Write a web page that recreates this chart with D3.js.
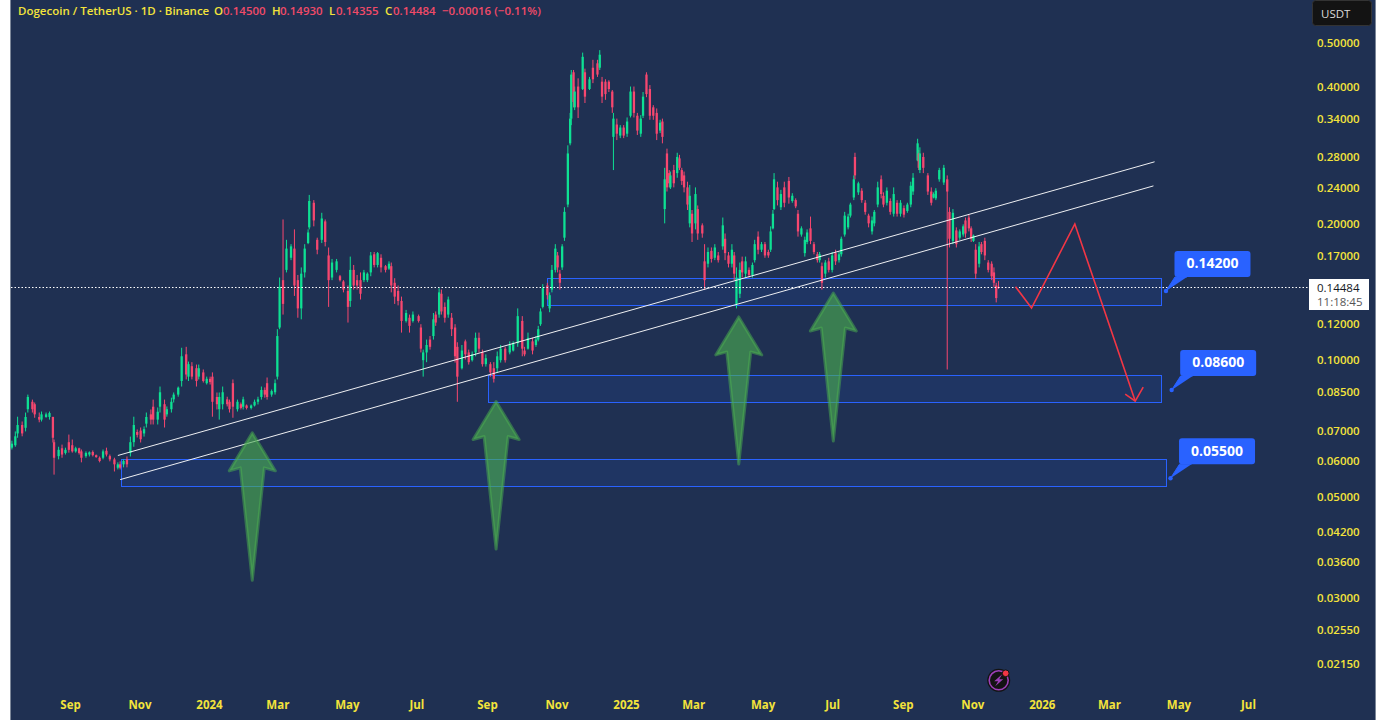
<!DOCTYPE html>
<html><head><meta charset="utf-8">
<script src="https://cdn.jsdelivr.net/npm/d3@7/dist/d3.min.js"></script>
<style>
html,body{margin:0;padding:0;background:#fff;overflow:hidden}
svg{display:block}
text{font-family:"Open Sans",sans-serif}
</style></head><body>
<svg id="c" width="1386" height="720"></svg>
<script>
const candleDay=[
0,3,5,9,12,14,18,20,24,26,
30,33,36,37,41,44,47,50,53,56,
59,61,65,68,71,74,77,80,83,86,
90,93,95,98,101,104,107,110,113,116,
118,122,124,128,130,134,136,140,142,146,
149,153,155,158,162,164,168,171,174,176,
180,182,185,189,191,194,198,201,203,206,
210,213,216,219,222,224,228,231,233,235,
238,241,245,248,251,254,257,260,261,265,
268,272,275,278,281,285,288,291,295,297,
300,303,306,309,312,315,318,321,324,328,
331,333,336,339,342,346,349,352,357,359,
361,364,367,370,372,375,377,380,383,386,
389,391,395,398,401,404,407,410,413,416,
420,423,426,429,433,437,440,444,448,450,
453,457,460,462,464,466,470,472,474,477,
479,481,483,485,488,490,491,493,494,497,
501,503,507,510,514,516,518,521,524,527,
528,531,534,537,540,543,546,549,552,554,
557,560,563,566,569,571,573,575,577,578,
581,584,586,588,590,593,595,597,600,602,
606,608,611,614,617,620,624,626,629,632,
634,636,639,641,644,647,650,652,655,658,
661,664,666,668,669,672,675,678,682,685,
688,690,693,696,698,701,704,707,709,711,
714,717,720,723,726,728,731,734,736,739,
740,743,746,749,752,755,757,760,763,765,
768,771,774,777,780,783,786,789,791,795,
796,797,800,804,807,809,811,814,818,821,
823,826,829,832,835,837,840,842,844,846,
849,851,854,857,860,862,864,866];
const candleHigh=[
.0665,.0697,.0751,.0733,.0767,.084,.0819,.0807,.0767,.0771,
.0767,.0771,.0751,.0669,.0645,.0652,.0642,.0686,.0669,.0645,
.0642,.0636,.063,.063,.0633,.062,.0614,.0636,.0642,.062,
.061,.0596,.0599,.0605,.0614,.0679,.0751,.0704,.0711,.0715,
.0767,.0779,.0819,.0787,.0875,.0819,.0791,.0827,.0849,.0875,
.1065,.107,.0993,.099,.0978,.0978,.0954,.092,.092,.094,
.0849,.0849,.0875,.0831,.0819,.0907,.0819,.0807,.0831,.0799,
.0799,.0819,.0831,.0875,.0871,.0916,.0862,.0907,.117,.152,
.204,.184,.18,.194,.154,.16,.18,.194,.231,.225,
.186,.211,.204,.177,.167,.167,.154,.15,.146,.169,
.162,.154,.156,.158,.156,.173,.173,.173,.171,.162,
.165,.164,.1515,.146,.138,.129,.126,.128,.126,.12,
.1055,.111,.113,.127,.128,.144,.143,.134,.138,.127,
.12,.1095,.108,.111,.1055,.1045,.115,.115,.1055,.103,
.099,.099,.1045,.108,.107,.11,.11,.13,.125,.107,
.115,.112,.113,.119,.13,.147,.148,.141,.162,.18,
.173,.158,.18,.217,.297,.35,.435,.435,.4,.417,
.475,.438,.42,.458,.458,.481,.42,.415,.413,.393,
.35,.34,.329,.329,.342,.4,.4,.35,.346,.389,
.43,.403,.364,.358,.338,.34,.265,.292,.262,.26,
.269,.286,.283,.265,.26,.247,.243,.214,.24,.219,
.2,.18,.177,.177,.18,.173,.206,.19,.173,.18,
.173,.16,.164,.169,.169,.16,.164,.184,.192,.182,
.182,.175,.197,.214,.258,.247,.237,.247,.253,.233,
.227,.214,.197,.187,.194,.207,.182,.173,.173,.164,
.166,.168,.173,.175,.173,.187,.212,.21,.222,.255,
.286,.247,.239,.225,.21,.207,.214,.247,.255,.234,
.24,.227,.24,.225,.225,.219,.222,.247,.258,.307,
.29,.294,.286,.258,.24,.234,.239,.265,.269,.255,
.217,.215,.196,.194,.199,.206,.209,.197,.189,.18,
.182,.182,.186,.166,.165,.16,.148,.1493];
const candleLow=[
.0636,.0645,.0675,.068,.0697,.0767,.0767,.0747,.073,.0733,
.0747,.074,.0659,.056,.0605,.061,.062,.0626,.0626,.0626,
.062,.0596,.061,.0614,.0614,.061,.0596,.0605,.0614,.0599,
.0569,.0575,.0575,.0581,.0581,.0614,.0645,.0676,.0659,.0679,
.0711,.0722,.0722,.0722,.0767,.0711,.0751,.0767,.0807,.0831,
.0875,.0907,.09,.0907,.0875,.0907,.0893,.0884,.0884,.0751,
.0779,.074,.0779,.0791,.0767,.0747,.0771,.0779,.0779,.0779,
.0779,.0791,.0799,.0819,.0827,.0819,.0831,.084,.0907,.117,
.126,.156,.166,.1385,.124,.123,.152,.18,.194,.197,
.171,.181,.178,.131,.15,.156,.149,.141,.121,.131,
.143,.143,.136,.1485,.1485,.153,.16,.16,.156,.156,
.158,.141,.133,.132,.115,.121,.115,.121,.121,.104,
.092,.099,.1055,.111,.119,.124,.126,.121,.124,.113,
.0988,.081,.0954,.1003,.0978,.0993,.102,.104,.0968,.0968,
.092,.0893,.094,.0988,.0988,.103,.1045,.107,.102,.102,
.1055,.103,.107,.11,.119,.13,.136,.1275,.141,.156,
.156,.143,.158,.183,.217,.297,.329,.36,.355,.341,
.393,.368,.393,.407,.42,.435,.368,.374,.389,.35,
.262,.305,.308,.308,.31,.342,.342,.313,.31,.341,
.379,.338,.338,.305,.316,.3,.2,.235,.24,.238,
.24,.252,.262,.243,.234,.214,.196,.182,.194,.184,
.186,.143,.16,.164,.166,.164,.175,.166,.16,.16,
.15,.13,.137,.152,.152,.152,.152,.164,.171,.173,
.168,.168,.173,.194,.214,.219,.214,.217,.221,.222,
.216,.187,.187,.169,.18,.18,.171,.164,.164,.143,
.152,.156,.156,.162,.164,.169,.187,.194,.206,.225,
.25,.231,.222,.209,.196,.189,.197,.217,.227,.217,
.219,.209,.207,.207,.207,.206,.211,.217,.231,.274,
.262,.258,.258,.231,.219,.227,.225,.247,.243,.0954,
.177,.18,.177,.184,.187,.186,.192,.182,.182,.151,
.16,.171,.166,.156,.15,.145,.134,.14355];
const candleOpen=[
.0642,.065,.069,.072,.071,.078,.081,.08,.075,.074,
.075,.075,.075,.066,.0615,.064,.0625,.066,.065,.063,
.064,.063,.0615,.062,.0628,.0618,.061,.061,.0632,.0615,
.0605,.058,.059,.059,.0605,.0625,.066,.0695,.07,.069,
.0725,.076,.079,.074,.079,.08,.076,.078,.082,.084,
.09,.103,.092,.097,.096,.092,.094,.089,.091,.092,
.083,.078,.08,.082,.081,.089,.078,.08,.079,.0795,
.0785,.0795,.081,.083,.086,.089,.084,.085,.092,.118,
.15,.158,.168,.176,.15,.13,.156,.181,.196,.222,
.184,.184,.202,.17,.152,.158,.153,.149,.142,.135,
.158,.15,.15,.15,.15,.156,.171,.162,.168,.161,
.159,.161,.148,.142,.135,.122,.124,.122,.125,.118,
.1,.104,.111,.113,.126,.126,.14,.131,.126,.124,
.118,.107,.096,.11,.104,.1,.104,.112,.104,.098,
.098,.096,.096,.1,.106,.104,.105,.109,.122,.105,
.106,.11,.108,.111,.12,.131,.146,.13,.143,.158,
.17,.155,.16,.186,.22,.3,.34,.43,.36,.4,
.395,.43,.395,.44,.45,.44,.41,.41,.41,.39,
.31,.33,.312,.325,.315,.345,.39,.345,.315,.345,
.425,.395,.36,.35,.32,.335,.215,.285,.258,.24,
.262,.258,.278,.262,.255,.24,.2,.21,.2,.215,
.198,.165,.163,.174,.168,.17,.178,.185,.17,.163,
.17,.133,.14,.165,.155,.158,.154,.166,.187,.175,
.18,.173,.175,.195,.215,.24,.217,.24,.248,.224,
.225,.21,.189,.172,.182,.195,.18,.171,.166,.161,
.155,.165,.158,.172,.166,.171,.189,.196,.208,.228,
.28,.234,.236,.222,.208,.192,.2,.22,.25,.23,
.222,.224,.21,.222,.21,.216,.213,.22,.235,.275,
.285,.262,.28,.255,.235,.228,.227,.25,.246,.25,
.212,.183,.193,.186,.189,.203,.206,.195,.183,.175,
.163,.18,.183,.164,.163,.156,.146,.145];
const candleClose=[
.0655,.068,.072,.069,.075,.083,.078,.076,.074,.076,
.076,.0765,.0675,.061,.0635,.062,.0635,.0635,.063,.064,
.0625,.061,.0625,.0627,.0618,.0612,.06,.063,.062,.0605,
.059,.059,.058,.06,.059,.066,.072,.0685,.067,.0705,
.075,.074,.074,.077,.085,.074,.078,.081,.084,.087,
.102,.093,.098,.092,.09,.096,.09,.091,.0895,.081,
.08,.083,.085,.08,.078,.079,.081,.0785,.082,.0785,
.0795,.081,.082,.086,.084,.083,.0855,.089,.113,.145,
.133,.176,.178,.146,.13,.155,.176,.191,.224,.203,
.175,.205,.182,.15,.164,.165,.15,.143,.131,.158,
.146,.146,.14,.156,.155,.17,.162,.172,.16,.158,
.163,.146,.138,.135,.122,.127,.119,.126,.122,.106,
.104,.108,.107,.123,.121,.141,.128,.124,.136,.117,
.102,.092,.105,.103,.099,.103,.112,.106,.098,.101,
.094,.091,.102,.106,.1,.108,.109,.125,.106,.103,
.112,.105,.111,.117,.128,.144,.139,.139,.158,.176,
.16,.148,.178,.212,.285,.34,.425,.37,.39,.36,
.465,.38,.415,.415,.425,.47,.38,.385,.395,.36,
.34,.315,.325,.312,.335,.39,.35,.32,.34,.38,
.385,.345,.345,.315,.333,.31,.25,.24,.245,.255,
.245,.28,.265,.248,.24,.22,.23,.19,.232,.19,
.19,.15,.173,.167,.177,.166,.198,.172,.163,.175,
.155,.152,.158,.156,.165,.154,.162,.18,.175,.18,
.17,.17,.192,.21,.25,.225,.232,.222,.228,.23,
.218,.192,.195,.184,.191,.183,.173,.166,.171,.148,
.164,.158,.17,.165,.171,.185,.208,.207,.22,.25,
.255,.245,.225,.212,.2,.203,.212,.24,.232,.22,
.236,.212,.232,.21,.222,.209,.22,.242,.252,.3,
.265,.285,.265,.235,.222,.232,.236,.262,.265,.235,
.185,.211,.18,.192,.197,.19,.195,.185,.188,.155,
.178,.173,.17,.158,.153,.148,.137,.14484];

const priceTicks=[.5,.4,.34,.28,.24,.2,.17,.12,.1,.085,.07,.06,.05,.042,.036,.03,.0255,.0215];
const timeTickLabels=["Sep","Nov","2024","Mar","May","Jul","Sep","Nov","2025","Mar","May","Jul","Sep","Nov","2026","Mar","May","Jul"];
const timeTickYear=[2023,2023,2024,2024,2024,2024,2024,2024,2025,2025,2025,2025,2025,2025,2026,2026,2026,2026];
const timeTickMonth=[8,10,0,2,4,6,8,10,0,2,4,6,8,10,0,2,4,6];

const lastPrice=.14484;
const trendDayA=[93,95], trendDayB=[1003,1002];
const trendPriceA=[.0617,.0546], trendPriceB=[.2732,.2418];
const zoneDayA=[470,418,96], zoneDayB=[1009.3,1009.5,1013];
const zoneTop=[.1515,.093,.0606], zoneBottom=[.132,.0811,.0529];
const calloutDay=[1013,1018.5,1017], calloutPrice=[.142,.086,.055];
const calloutText=["0.14200","0.08600","0.05500"];
const forecastDay=[881.5,895.5,933,986], forecastPrice=[.145,.1302,.1994,.0813];
const arrowDay=[211.6,425,638,721], arrowTop=[.0692,.0811,.1245,.1405], arrowBottom=[.0328,.0384,.0591,.0664];

const headerTexts=[
 ["Dogecoin / TetherUS · 1D · Binance",18,"y"],["O",214,"y"],["0.14500",223,"r"],["H",272,"y"],["0.14930",280,"r"],
 ["L",329,"y"],["0.14355",336,"r"],["C",385,"y"],["0.14484",393,"r"],["−0.00016 (−0.11%)",442,"r"]];

const BG="#1f3052",YEL="#f3e33b",UP="#0ee093",DOWN="#f7476f",BLUE="#2962ff";
const svg=d3.select("#c");
svg.append("rect").attr("x",10).attr("y",0).attr("width",1366).attr("height",720).attr("fill",BG);
svg.append("rect").attr("x",10).attr("y",0).attr("width",1).attr("height",720).attr("fill","#7c8799");
svg.append("rect").attr("x",1375).attr("y",0).attr("width",1).attr("height",720).attr("fill","#7c8799");

const x=d3.scaleUtc().domain([Date.UTC(2023,8,1),Date.UTC(2026,6,1)]).range([70,1248]);
const y=d3.scaleLog().domain([.5,.05]).range([42.5,497]);
const start=Date.UTC(2023,6,12);
const X=d=>x(d3.utcDay.offset(new Date(start),d));

// zones
svg.append("g").selectAll("rect").data(zoneTop).join("rect")
 .attr("x",(d,i)=>Math.round(X(zoneDayA[i]))+.5).attr("y",d=>Math.round(y(d))+.5)
 .attr("width",(d,i)=>Math.round(X(zoneDayB[i])-X(zoneDayA[i])))
 .attr("height",(d,i)=>Math.round(y(zoneBottom[i])-y(d)))
 .attr("fill",BLUE).attr("fill-opacity",.1).attr("stroke",BLUE).attr("stroke-width",1);

// candles
const idx=d3.range(candleDay.length);
const bw=X(2.8)-X(0);
const g=svg.append("g");
g.selectAll("line").data(idx).join("line")
 .attr("x1",i=>X(candleDay[i])).attr("x2",i=>X(candleDay[i]))
 .attr("y1",i=>y(candleHigh[i])).attr("y2",i=>y(candleLow[i]))
 .attr("stroke",i=>candleClose[i]>=candleOpen[i]?UP:DOWN).attr("stroke-width",1);
g.selectAll("rect").data(idx).join("rect")
 .attr("x",i=>X(candleDay[i])-bw/2).attr("width",bw)
 .attr("y",i=>y(Math.max(candleOpen[i],candleClose[i])))
 .attr("height",i=>Math.max(1,Math.abs(y(candleOpen[i])-y(candleClose[i]))))
 .attr("fill",i=>candleClose[i]>=candleOpen[i]?UP:DOWN);

// trend lines
svg.append("g").selectAll("line").data(trendDayA).join("line")
 .attr("x1",d=>X(d)).attr("x2",(d,i)=>X(trendDayB[i]))
 .attr("y1",(d,i)=>y(trendPriceA[i])).attr("y2",(d,i)=>y(trendPriceB[i]))
 .attr("stroke","#fff").attr("stroke-opacity",.92).attr("stroke-width",1);

// last price line
svg.append("line").attr("x1",11).attr("x2",1309).attr("y1",Math.round(y(lastPrice))+.5).attr("y2",Math.round(y(lastPrice))+.5)
 .attr("stroke","#fff").attr("stroke-dasharray","1.5 2").attr("stroke-width",1);

// green arrows
const arrowPath=(i)=>{const cx=X(arrowDay[i]),t=y(arrowTop[i]),b=y(arrowBottom[i]);
 const w=d3.path();w.moveTo(cx,t);w.lineTo(cx+23,t+38);w.lineTo(cx+12,t+35);w.lineTo(cx,b);w.lineTo(cx-12,t+35);w.lineTo(cx-23,t+38);w.closePath();return w.toString();};
svg.append("g").selectAll("path").data(arrowDay).join("path")
 .attr("d",(d,i)=>arrowPath(i)).attr("fill","#4caf50").attr("fill-opacity",.62)
 .attr("stroke","#4caf50").attr("stroke-opacity",.5).attr("stroke-width",3).attr("stroke-linejoin","round");

// forecast
const fl=d3.line().x(d=>X(forecastDay[d])).y(d=>y(forecastPrice[d]));
svg.append("path").attr("d",fl(d3.range(forecastDay.length))).attr("fill","none").attr("stroke","#f23645").attr("stroke-width",1.6);
const fx=X(forecastDay[3]),fy=y(forecastPrice[3]);
svg.append("path").attr("d",d3.line()([[fx-10,fy-7],[fx,fy],[fx+8,fy-14]])).attr("fill","none").attr("stroke","#f23645").attr("stroke-width",1.6);

// callouts
const co=svg.append("g").selectAll("g").data(calloutText).join("g")
 .attr("transform",(d,i)=>`translate(${X(calloutDay[i])},${y(calloutPrice[i])})`);
co.append("path").attr("d",d3.line()([[0,0],[9,-14],[21,-14]])).attr("fill",BLUE).attr("stroke",BLUE);
co.append("circle").attr("r",2.2).attr("fill",BLUE);
co.append("rect").attr("x",8.5).attr("y",-40).attr("width",76).attr("height",26).attr("rx",3).attr("fill",BLUE);
co.append("text").attr("x",46.5).attr("y",-27.5).attr("dy",".35em").attr("text-anchor","middle")
 .attr("fill","#fff").attr("font-size",14).attr("font-weight",700).text(d=>d);

// axes
const yAxis=d3.axisRight(y).tickValues(priceTicks).tickSize(0).tickPadding(0).tickFormat(d3.format(".5f"));
const ga=svg.append("g").attr("transform","translate(1317,0)").call(yAxis);
ga.select(".domain").remove();
ga.selectAll("text").attr("fill",YEL).attr("font-size",11.5).attr("font-weight",600).style("font-family",'"Open Sans",sans-serif');
const xAxis=d3.axisBottom(x).tickValues(timeTickMonth.map((m,i)=>new Date(Date.UTC(timeTickYear[i],m,1))))
 .tickSize(0).tickPadding(0).tickFormat((d,i)=>timeTickLabels[i]);
const gb=svg.append("g").attr("transform","translate(0,701)").call(xAxis);
gb.select(".domain").remove();
gb.selectAll("text").attr("fill",YEL).attr("font-size",11.5).attr("font-weight",700).style("font-family",'"Open Sans",sans-serif');

// header
svg.append("g").selectAll("text").data(headerTexts).join("text")
 .attr("x",d=>d[1]).attr("y",11).attr("dy",".35em").attr("font-size",11.5).attr("font-weight",600)
 .attr("fill",d=>d[2]=="y"?YEL:"#f04a68").text(d=>d[0]);

// USDT button
svg.append("rect").attr("x",1312.5).attr("y",.5).attr("width",59).attr("height",25).attr("rx",3).attr("fill","#131313").attr("stroke","#333");
svg.append("text").attr("x",1321).attr("y",13.5).attr("dy",".35em").attr("font-size",11.5).attr("fill","#dbdbdb").text("USDT");

// last price tag
svg.append("rect").attr("x",1309).attr("y",279).attr("width",60).attr("height",31).attr("fill","#fff");
svg.append("text").attr("x",1317).attr("y",288).attr("dy",".35em").attr("font-size",11.5).attr("fill","#131722").text(d3.format(".5f")(lastPrice));
svg.append("text").attr("x",1317).attr("y",301.5).attr("dy",".35em").attr("font-size",11.5).attr("fill","#555").text("11:18:45");

// flash icon
const ic=svg.append("g").attr("transform","translate(998.7,680.3)");
ic.append("circle").attr("r",11.5).attr("fill","#131313");
ic.append("circle").attr("r",9.5).attr("fill","none").attr("stroke","#9c3fb8").attr("stroke-width",1.6);
ic.append("path").attr("d","M3.5,-6 L-4.5,1 L-0.5,1 L-3.5,6 L4.5,-1 L0.5,-1 Z").attr("fill","#9c3fb8");
ic.append("circle").attr("cx",7).attr("cy",-7).attr("r",3.4).attr("fill","#f23645").attr("stroke","#131313");
</script>
</body></html>
